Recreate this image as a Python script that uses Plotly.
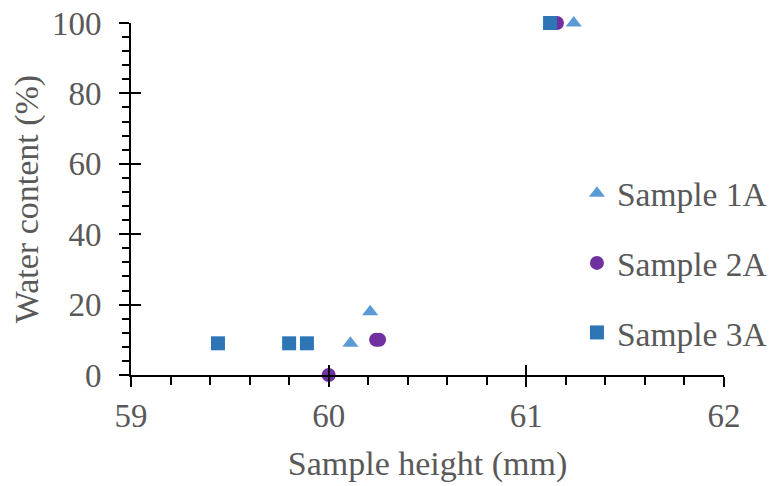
import plotly.graph_objects as go

# Data
s1_x = [60.11, 60.21, 61.24]
s1_y = [9, 18, 100]
s2_x = [60.00, 60.24, 60.255, 61.155]
s2_y = [0, 10, 10, 100]
s3_x = [59.44, 59.80, 59.89, 61.12]
s3_y = [9, 9, 9, 100]

names = ["Sample 1A", "Sample 2A", "Sample 3A"]
colors = ["#5B9BD5", "#7030A0", "#2E75B6"]
symbols = ["triangle-up", "circle", "square"]

FONT = "Liberation Serif, Times New Roman, serif"
TXT = "#595959"

fig = go.Figure()
for i, (xs, ys) in enumerate([(s1_x, s1_y), (s2_x, s2_y), (s3_x, s3_y)]):
    fig.add_trace(go.Scatter(
        x=xs, y=ys, mode="markers", name=names[i], legendgroup=names[i],
        marker=dict(symbol=symbols[i], color=colors[i], size=14, line=dict(width=0)),
        cliponaxis=False,
    ))

# empty helper trace for overlay axes (inside part of crossing major ticks)
fig.add_trace(go.Scatter(x=[], y=[], xaxis="x2", yaxis="y2", showlegend=False, hoverinfo="skip"))

fig.update_layout(
    width=800, height=486,
    margin=dict(l=123, r=84, t=15, b=119),
    plot_bgcolor="white", paper_bgcolor="white",
    font=dict(family=FONT, size=33, color=TXT),
    showlegend=True,
    legend=dict(x=0.752, y=0.318, xanchor="left", yanchor="middle",
                font=dict(family=FONT, size=33.5, color=TXT),
                tracegroupgap=23, bgcolor="rgba(0,0,0,0)"),
    xaxis=dict(
        range=[59, 62], dtick=1, tick0=59, showgrid=False, zeroline=False, automargin=False,
        showline=True, linecolor="black", linewidth=2,
        ticks="outside", ticklen=10, tickwidth=2, tickcolor="black",
        minor=dict(ticks="outside", ticklen=8, tickwidth=2, tickcolor="black", dtick=0.2),
        tickfont=dict(family=FONT, size=33, color=TXT), ticklabelstandoff=0,
        ticklabeloverflow="allow",
        title=dict(text="Sample height (mm)", font=dict(family=FONT, size=34, color=TXT), standoff=19),
    ),
    yaxis=dict(
        range=[0, 100], dtick=20, tick0=0, showgrid=False, zeroline=False, automargin=False,
        showline=True, linecolor="black", linewidth=2,
        ticks="outside", ticklen=10, tickwidth=2, tickcolor="black",
        minor=dict(ticks="outside", ticklen=7, tickwidth=2, tickcolor="black", dtick=4),
        tickfont=dict(family=FONT, size=33, color=TXT), ticklabelstandoff=11,
        ticklabeloverflow="allow",
        title=dict(text="Water content (%)", font=dict(family=FONT, size=34, color=TXT), standoff=8),
    ),
    xaxis2=dict(
        range=[59, 62], dtick=1, tick0=59, overlaying="x", anchor="y2", side="bottom",
        showgrid=False, zeroline=False, showline=False, showticklabels=False, automargin=False,
        ticks="inside", ticklen=10, tickwidth=2, tickcolor="black",
    ),
    yaxis2=dict(
        range=[0, 100], dtick=20, tick0=0, overlaying="y", anchor="x2", side="left",
        showgrid=False, zeroline=False, showline=False, showticklabels=False, automargin=False,
        ticks="inside", ticklen=10, tickwidth=2, tickcolor="black",
    ),
)

fig.write_html("out.html")
